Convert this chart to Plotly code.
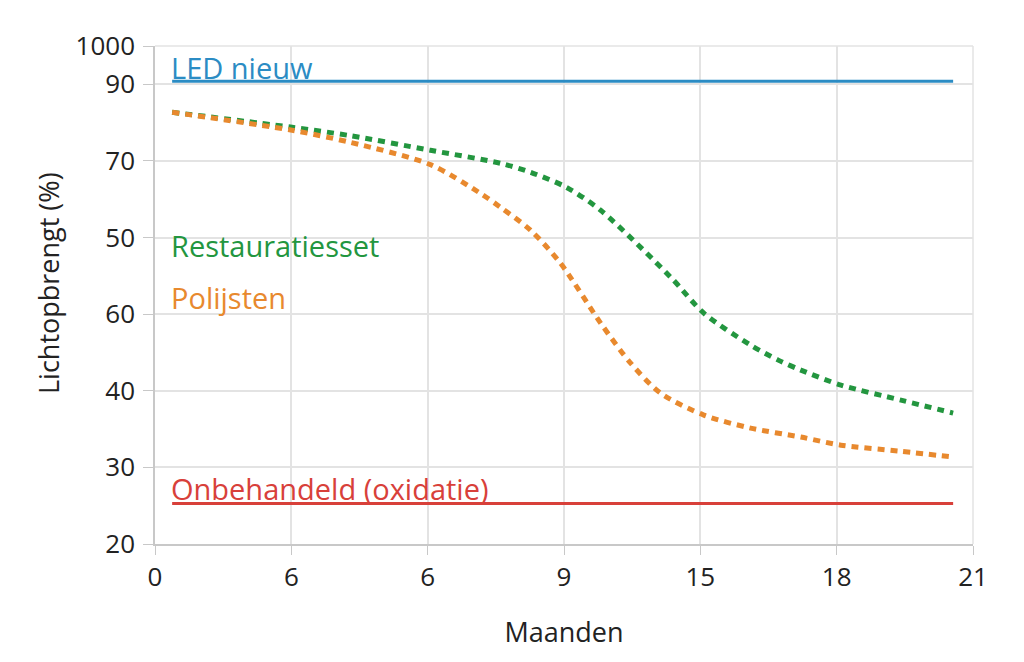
import plotly.graph_objects as go

# Data (axis units; y axis is positional with odd tick labels as in the source)
months_flat = [0.44, 20.49]
led_nieuw = [80.4, 80.4]
onbehandeld = [25.3, 25.3]

months_resto = [0.44, 3.52, 5.01, 7.07, 8.87, 9.64, 10.56, 11.44, 13.24, 14.09, 15.29, 16.0, 16.58, 17.61, 19.15, 20.49]
restauratiesset = [76.35, 74.39, 73.3, 71.39, 69.69, 68.52, 66.56, 63.56, 54.82, 50.13, 45.96, 44.0, 42.7, 40.74, 38.78, 37.09]

months_pol = [0.44, 3.52, 5.01, 7.07, 8.35, 8.87, 9.64, 10.41, 11.44, 12.21, 12.98, 14.09, 15.29, 16.58, 17.61, 19.15, 20.49]
polijsten = [76.35, 74.0, 72.43, 69.52, 65.78, 63.95, 60.96, 56.65, 48.83, 43.61, 39.69, 36.83, 35.13, 33.96, 32.9, 32.1, 31.35]

x_tickvals = [0, 3.5, 7, 10.5, 14, 17.5, 21]
x_ticktext = ["0", "6", "6", "9", "15", "18", "21"]
y_tickvals = [20, 30, 40, 50, 60, 70, 80, 85]
y_ticktext = ["20", "30", "40", "60", "50", "70", "90", "1000"]

BLUE = "#2b8cc4"
GREEN = "#23963f"
ORANGE = "#e8892e"
RED = "#d8403a"
FONT = "Open Sans"

fig = go.Figure()
fig.add_trace(go.Scatter(x=months_flat, y=led_nieuw, mode="lines",
                         line=dict(color=BLUE, width=3), name="LED nieuw"))
fig.add_trace(go.Scatter(x=months_flat, y=onbehandeld, mode="lines",
                         line=dict(color=RED, width=3), name="Onbehandeld (oxidatie)"))
fig.add_trace(go.Scatter(x=months_resto, y=restauratiesset, mode="lines",
                         line=dict(color=GREEN, width=5, dash="7px,6px", shape="spline", smoothing=0.8),
                         name="Restauratiesset"))
fig.add_trace(go.Scatter(x=months_pol, y=polijsten, mode="lines",
                         line=dict(color=ORANGE, width=5, dash="7px,6px", shape="spline", smoothing=0.8),
                         name="Polijsten"))

labels = [
    ("LED nieuw", 82.2, BLUE),
    ("Restauratiesset", 59.0, GREEN),
    ("Polijsten", 52.2, ORANGE),
    ("Onbehandeld (oxidatie)", 27.3, RED),
]
for text, yv, col in labels:
    fig.add_annotation(x=0.44, y=yv, text=text, showarrow=False, xanchor="left", yanchor="middle",
                       xshift=-3, font=dict(family=FONT, size=29, color=col))

# y-axis title as rotated annotation (sits slightly above the plot centre in the source)
fig.add_annotation(xref="paper", yref="paper", x=0, y=0.5, xshift=-107, yshift=12,
                   text="Lichtopbrengt (%)", textangle=-90, showarrow=False,
                   xanchor="center", yanchor="middle",
                   font=dict(family=FONT, size=27, color="#222222"))

fig.update_layout(
    width=1024, height=662,
    margin=dict(l=147, r=59, t=38, b=126),
    paper_bgcolor="white", plot_bgcolor="white",
    showlegend=False,
    font=dict(family=FONT, color="#222222"),
)
fig.update_xaxes(
    range=[0, 21], tickvals=x_tickvals, ticktext=x_ticktext,
    showgrid=True, gridcolor="#e3e3e3", gridwidth=1.5,
    showline=True, linecolor="#c8c8c8", linewidth=1.5,
    ticks="outside", ticklen=9, tickcolor="#c8c8c8",
    tickfont=dict(family=FONT, size=26, color="#222222"),
    title=dict(text="Maanden", font=dict(family=FONT, size=27, color="#222222"), standoff=30),
    zeroline=False, mirror=False,
)
fig.update_yaxes(
    range=[20, 85], tickvals=y_tickvals, ticktext=y_ticktext,
    showgrid=True, gridcolor="#e3e3e3", gridwidth=1.5,
    showline=True, linecolor="#c8c8c8", linewidth=1.5,
    ticks="outside", ticklen=10, tickcolor="#c8c8c8", ticklabelstandoff=3,
    tickfont=dict(family=FONT, size=26, color="#222222"),
    zeroline=False,
)
# right/top border as light gridlines
fig.add_shape(type="line", xref="paper", yref="paper", x0=1, x1=1, y0=0, y1=1,
              line=dict(color="#e3e3e3", width=1.5))
fig.add_shape(type="line", xref="paper", yref="paper", x0=0, x1=1, y0=1, y1=1,
              line=dict(color="#e3e3e3", width=1.5))

fig.write_html("out.html")
